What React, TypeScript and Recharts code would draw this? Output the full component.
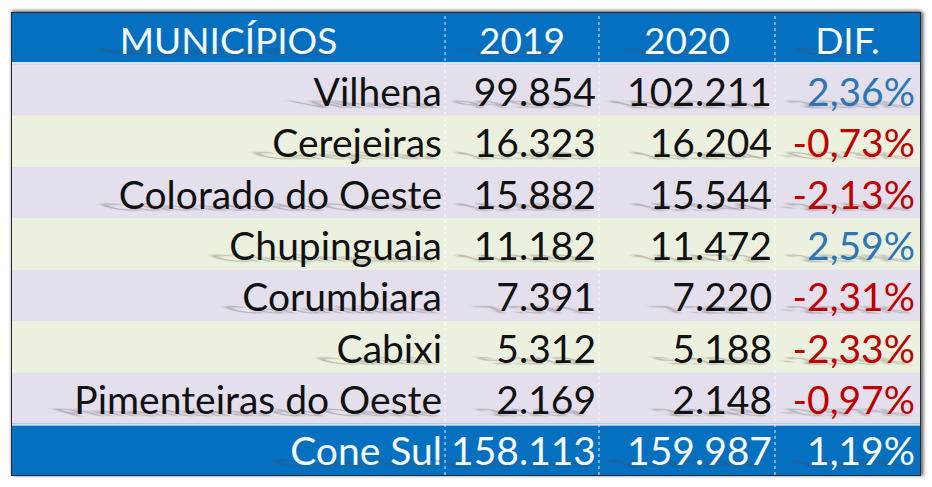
import { BarChart, Bar, XAxis, YAxis, ReferenceLine } from "recharts";

const headers = ["MUNICÍPIOS", "2019", "2020", "DIF."];
const municipios = [
  "Vilhena",
  "Cerejeiras",
  "Colorado do Oeste",
  "Chupinguaia",
  "Corumbiara",
  "Cabixi",
  "Pimenteiras do Oeste",
];
const pop2019 = [99854, 16323, 15882, 11182, 7391, 5312, 2169];
const pop2020 = [102211, 16204, 15544, 11472, 7220, 5188, 2148];
const dif = [2.36, -0.73, -2.13, 2.59, -2.31, -2.33, -0.97];
const totalLabel = "Cone Sul";
const total2019 = 158113;
const total2020 = 159987;
const totalDif = 1.19;

// layout
const W = 932;
const H = 487;
const COL_WIDTHS = [433, 154, 176, 145];
const TOTAL_W = COL_WIDTHS.reduce((a, b) => a + b, 0);
const FONT = "Lato, 'Open Sans', sans-serif";

const BLUE = "#0670c0";
const LAVENDER = "#e4dfec";
const GREEN = "#ebf1de";
const RED = "#c00000";
const POS = "#2e75b6";

const fmtInt = (n: number) => String(n).replace(/\B(?=(\d{3})+(?!\d))/g, ".");
const fmtPct = (v: number) => v.toFixed(2).replace(".", ",") + "%";

type Row = {
  name: string;
  kind: "head" | "body" | "foot";
  cells: string[];
  colors: string[];
  bg: string;
  w0: number;
  w1: number;
  w2: number;
  w3: number;
};

const widths = { w0: COL_WIDTHS[0], w1: COL_WIDTHS[1], w2: COL_WIDTHS[2], w3: COL_WIDTHS[3] };

const rows: Row[] = [
  {
    name: "head",
    kind: "head",
    cells: headers,
    colors: ["#f4faff", "#f4faff", "#f4faff", "#f4faff"],
    bg: BLUE,
    ...widths,
  },
  ...municipios.map((m, i) => ({
    name: m,
    kind: "body" as const,
    cells: [m, fmtInt(pop2019[i]), fmtInt(pop2020[i]), fmtPct(dif[i])],
    colors: ["#111", "#111", "#111", dif[i] < 0 ? RED : POS],
    bg: i % 2 === 0 ? LAVENDER : GREEN,
    ...widths,
  })),
  {
    name: totalLabel,
    kind: "foot",
    cells: [totalLabel, fmtInt(total2019), fmtInt(total2020), fmtPct(totalDif)],
    colors: ["#f4faff", "#f4faff", "#f4faff", "#f4faff"],
    bg: BLUE,
    ...widths,
  },
];

function CellShape(props: any) {
  const { x, y, width, height, payload, col } = props;
  const row = payload as Row;
  const head = row.kind === "head";
  const fontSize = head ? 37 : 39;
  const tx = head ? x + width / 2 : x + width - (col === 3 ? 5 : 3);
  const ty = y + height / 2 + (head ? 15 : 16);
  const anchor = head ? "middle" : "end";
  const text = row.cells[col];
  return (
    <g>
      <rect x={x} y={y} width={width + 0.5} height={height + 0.5} fill={row.bg} />
      {row.kind === "head" && (
        <rect x={x} y={y + height - 2} width={width + 0.5} height={2.5} fill="#d6e3f3" />
      )}
      {row.kind === "foot" && <rect x={x} y={y} width={width + 0.5} height={2} fill="#d6e3f3" />}
      <text
        x={tx}
        y={ty}
        textAnchor={anchor}
        fontFamily={FONT}
        fontSize={fontSize}
        fill="#4a4a4a"
        opacity={0.5}
        filter="url(#txtShadow)"
        transform={`translate(${tx} ${ty}) matrix(1 0 0.85 0.25 -2 2) translate(${-tx} ${-ty})`}
      >
        {text}
      </text>
      <text x={tx} y={ty} textAnchor={anchor} fontFamily={FONT} fontSize={fontSize} fill={row.colors[col]}>
        {text}
      </text>
    </g>
  );
}

const dividers = [COL_WIDTHS[0], COL_WIDTHS[0] + COL_WIDTHS[1], COL_WIDTHS[0] + COL_WIDTHS[1] + COL_WIDTHS[2]];

export default function App() {
  return (
    <div style={{ position: "absolute", left: 0, top: 0, width: W, height: H, background: "#fff" }}>
      <svg width={0} height={0} style={{ position: "absolute" }}>
        <defs>
          <filter id="txtShadow" x="-20%" y="-50%" width="140%" height="200%">
            <feGaussianBlur stdDeviation="2.2" />
          </filter>
        </defs>
      </svg>
      <BarChart
        width={W}
        height={H}
        data={rows}
        layout="vertical"
        barCategoryGap={0}
        barGap={0}
        margin={{ top: 13, right: W - 12 - TOTAL_W, bottom: 12, left: 12 }}
      >
        <XAxis type="number" domain={[0, TOTAL_W]} hide />
        <YAxis type="category" dataKey="name" hide width={0} />
        {[0, 1, 2, 3].map((c) => (
          <Bar
            key={c}
            dataKey={`w${c}`}
            stackId="t"
            isAnimationActive={false}
            shape={(p: any) => <CellShape {...p} col={c} />}
          />
        ))}
        {dividers.map((d) => (
          <ReferenceLine key={d} x={d} stroke="#ffffff" strokeOpacity={0.85} strokeWidth={1} strokeDasharray="3 3" />
        ))}
      </BarChart>
      <div
        style={{
          position: "absolute",
          left: 11,
          top: 12,
          width: TOTAL_W,
          height: 462,
          border: "1px solid #2a2a2a",
          boxShadow: "3px 0px 3px rgba(0,0,0,0.45), 0px -2px 3px rgba(0,0,0,0.35)",
          pointerEvents: "none",
        }}
      />
    </div>
  );
}
